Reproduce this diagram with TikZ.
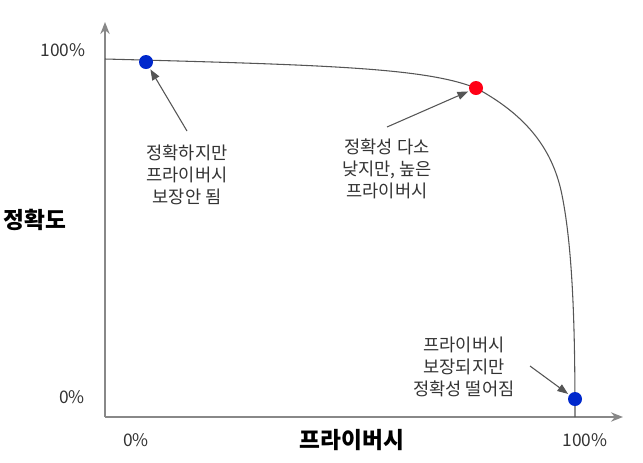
\documentclass[tikz,border=0pt]{standalone}
\usepackage{fontspec}
\setmainfont{Noto Sans CJK KR}
\usetikzlibrary{arrows.meta}
\definecolor{txt}{HTML}{333333}
\definecolor{axisgray}{HTML}{888888}
\definecolor{curvegray}{HTML}{555555}
\definecolor{dotblue}{HTML}{0028CC}
\definecolor{dotred}{HTML}{FF0016}
\tikzset{
  axisline/.style={draw=axisgray, line width=1.4pt, -{Stealth[length=9pt,width=7pt,inset=3pt]}},
  curveline/.style={draw=curvegray, line width=0.8pt},
  dot/.style={circle, minimum size=10.5pt, inner sep=0pt},
  bluedot/.style={dot, fill=dotblue},
  reddot/.style={dot, fill=dotred},
  lbl/.style={text=txt, font=\fontsize{13.2}{16.5}\selectfont, align=center},
  pct/.style={text=txt, font=\fontsize{13}{15}\selectfont},
  axlbl/.style={text=black, font=\fontsize{17}{19}\selectfont\bfseries},
  pointer/.style={draw=curvegray, line width=0.8pt, -{Triangle[length=8pt,width=6pt]}, shorten >=1pt}
}
\begin{document}
\begin{tikzpicture}[x=0.75pt,y=-0.75pt]
\useasboundingbox (0,0) rectangle (643,462);
% axes
\coordinate (origin) at (105,417);
\coordinate (ytip) at (105,22);
\coordinate (xtip) at (623,417);
\draw[axisline] (origin) -- (ytip);
\draw[axisline] (origin) -- (xtip);
% curve
\coordinate (c0) at (105,59);
\coordinate (c3) at (575,417);
\draw[curveline] (c0) .. controls (330,65) and (425,68) .. (476,88)
  .. controls (522,113) and (552,145) .. (562,195)
  .. controls (573,250) and (575,330) .. (c3);
\node[bluedot] (p1) at (146,62) {};
\node[reddot] (p2) at (476,88) {};
\node[bluedot] (p3) at (575,399) {};
% axis labels
\node[pct] (y100) at (63,50) {100\%};
\node[pct] (y0) at (72,397) {0\%};
\node[pct] (x0) at (136,440) {0\%};
\node[pct] (x100) at (585,440) {100\%};
\node[axlbl] (ylab) at (35,220) {정확도};
\node[axlbl] (xlab) at (352,440) {프라이버시};
% annotations
\node[lbl] (t1) at (187,175) {정확하지만\\프라이버시\\보장안 됨};
\node[lbl] (t2) at (387,169) {정확성 다소\\낮지만, 높은\\프라이버시};
\node[lbl] (t3) at (464,367) {프라이버시\\보장되지만\\정확성 떨어짐};
\coordinate (a1) at (187,131);
\coordinate (a2) at (387,127);
\coordinate (a3) at (530,366);
\draw[pointer] (a1) -- (p1);
\draw[pointer] (a2) -- (p2);
\draw[pointer] (a3) -- (p3);
\end{tikzpicture}
\end{document}
